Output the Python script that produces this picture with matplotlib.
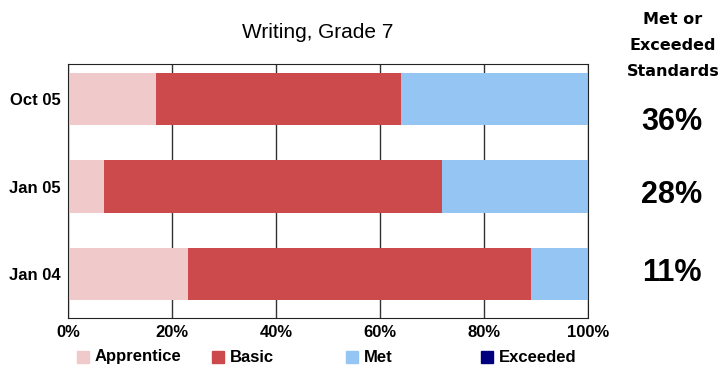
import numpy as np
import matplotlib
matplotlib.use("Agg")
import matplotlib.pyplot as plt
from matplotlib.lines import Line2D

# data (bottom to top)
tests = ['Jan 04', 'Jan 05', 'Oct 05']
levels = ['Apprentice', 'Basic', 'Met', 'Exceeded']
apprentice = [23, 7, 17]
basic = [66, 65, 47]
met = [11, 28, 36]
exceeded = [0, 0, 0]
colors = ['#f0cacb', '#cc4a4c', '#95c6f3', '#00007f']
xticks = [0, 20, 40, 60, 80, 100]

fig = plt.figure(figsize=(7.24, 3.70), dpi=100)
ax = fig.add_axes([68/724, 1-318/370, 520/724, 254/370])

y = np.arange(len(tests))
left = np.zeros(len(tests))
for vals, c, lab in zip([apprentice, basic, met, exceeded], colors, levels):
    ax.barh(y, vals, left=left, height=0.6, color=c, label=lab, zorder=2)
    left += np.array(vals)

ax.set_xlim(0, 100)
ax.set_ylim(-0.5, 2.4)
ax.set_xticks(xticks)
ax.set_xticklabels([f'{t}%' for t in xticks], family='Liberation Sans', fontweight='bold', fontsize=12)
ax.set_yticks(y)
ax.set_yticklabels(tests, family='Liberation Sans', fontweight='bold', fontsize=12)
ax.tick_params(length=0, pad=5)
ax.xaxis.grid(True, color='#333333', linewidth=1, zorder=1)
ax.set_axisbelow(True)
for s in ax.spines.values():
    s.set_color('#222222')

fig.text(318/724, 1-32/370, 'Writing, Grade 7', ha='center', va='center',
         family='Liberation Sans', fontsize=15)

# right-hand summary
for i, line in enumerate(['Met or', 'Exceeded', 'Standards']):
    fig.text(673/724, 1-(19+26.5*i)/370, line, ha='center', va='center',
             family='DejaVu Sans', fontweight='bold', fontsize=11.5)
pct_y = [273, 195, 122]
for py, m, e in zip(pct_y, met, exceeded):
    fig.text(672/724, 1-py/370, f'{m+e}%', ha='center', va='center',
             family='Liberation Sans', fontweight='bold', fontsize=22)

# legend along the bottom
for i, (lab, c) in enumerate(zip(levels, colors)):
    x0 = (83 + 134.5*i)/724
    fig.add_artist(Line2D([x0], [1-357/370], marker='s', markersize=9, color=c,
                          linestyle='none', transform=fig.transFigure))
    fig.text(x0 + 12/724, 1-357/370, lab, ha='left', va='center',
             family='Liberation Sans', fontweight='bold', fontsize=12)

fig.savefig('out.png', dpi=100)
